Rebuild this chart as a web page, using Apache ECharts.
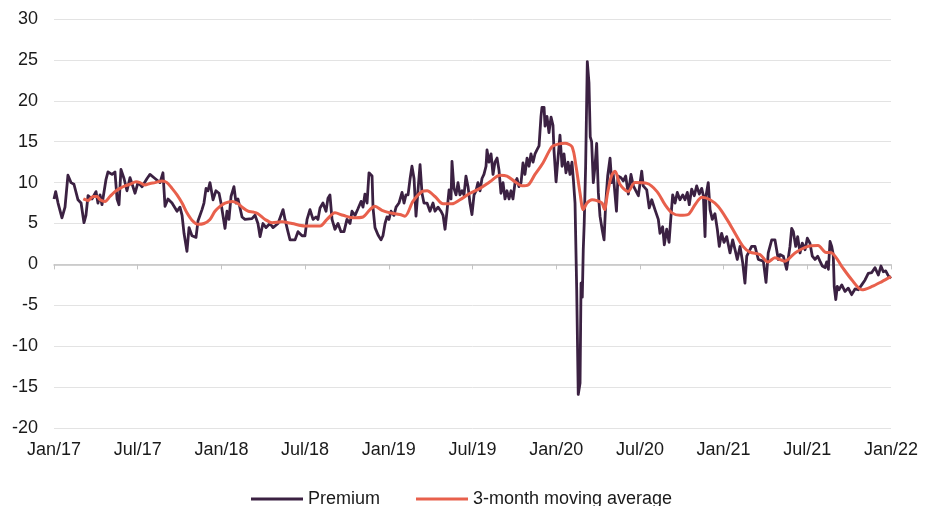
<!DOCTYPE html>
<html>
<head>
<meta charset="utf-8">
<script src="https://cdn.jsdelivr.net/npm/echarts@6/dist/echarts.min.js"></script>
<style>
html,body{margin:0;padding:0;background:#fff;}
#chart{width:934px;height:506px;}
</style>
</head>
<body>
<div id="chart"></div>
<script>
// x = months since Jan 2017
const tickLabels = ['Jan/17','Jul/17','Jan/18','Jul/18','Jan/19','Jul/19','Jan/20','Jul/20','Jan/21','Jul/21','Jan/22'];

const premium = [
[0.00,8.0],[0.12,8.9],[0.29,7.5],[0.57,5.7],[0.79,7.0],[1.00,10.9],[1.22,10.0],[1.43,9.8],[1.72,7.9],[1.94,7.5],
[2.15,5.1],[2.29,6.0],[2.44,8.4],[2.72,8.0],[3.01,8.9],[3.15,7.5],[3.30,8.5],[3.44,7.3],[3.73,10.4],[3.87,11.3],
[4.16,11.0],[4.37,11.3],[4.52,8.0],[4.66,7.3],[4.80,11.6],[5.02,10.5],[5.23,9.0],[5.45,10.6],[5.81,8.7],[6.02,10.0],
[6.31,9.5],[6.67,10.5],[6.88,11.0],[7.24,10.5],[7.60,10.0],[7.81,11.2],[7.96,7.1],[8.17,8.0],[8.46,7.5],[8.82,6.5],
[9.03,7.0],[9.18,6.0],[9.32,3.8],[9.53,1.6],[9.68,4.5],[9.89,3.5],[10.18,3.3],[10.32,5.3],[10.61,6.7],[10.75,7.5],
[10.90,9.3],[11.04,9.0],[11.18,10.0],[11.40,7.9],[11.61,9.0],[11.83,8.7],[11.97,7.5],[12.26,4.4],[12.40,6.5],[12.54,5.5],
[12.69,8.3],[12.90,9.5],[13.05,7.5],[13.19,8.0],[13.48,5.8],[13.69,5.5],[14.19,5.6],[14.41,6.0],[14.62,5.0],[14.77,3.4],
[14.98,5.0],[15.20,4.5],[15.48,5.0],[15.70,4.5],[16.06,5.0],[16.42,6.7],[16.56,5.5],[16.77,4.0],[16.92,3.0],[17.28,3.0],
[17.49,4.0],[17.78,3.5],[17.99,3.5],[18.14,5.5],[18.35,6.7],[18.57,5.5],[18.78,5.8],[18.92,5.5],[19.07,6.9],[19.28,7.5],
[19.50,6.5],[19.64,8.1],[19.78,8.5],[19.93,5.5],[20.14,4.3],[20.36,5.0],[20.57,4.0],[20.79,4.0],[21.00,5.5],[21.22,5.0],
[21.36,6.5],[21.58,6.0],[21.79,6.8],[22.01,7.7],[22.15,7.0],[22.29,8.6],[22.44,7.5],[22.58,11.2],[22.80,10.8],[22.87,6.9],
[23.01,4.5],[23.23,3.6],[23.44,3.0],[23.58,3.5],[23.73,5.0],[23.87,5.8],[24.01,5.5],[24.16,6.5],[24.37,6.0],[24.52,7.0],
[24.73,7.5],[24.95,8.8],[25.09,7.5],[25.23,8.5],[25.38,8.5],[25.52,10.4],[25.66,12.0],[25.81,10.5],[25.95,5.9],[26.09,9.0],
[26.24,12.2],[26.38,8.7],[26.52,7.5],[26.74,7.5],[26.95,6.5],[27.17,7.5],[27.31,6.5],[27.53,7.0],[27.74,6.5],[27.89,6.0],
[28.03,4.3],[28.17,6.5],[28.32,9.1],[28.46,8.0],[28.53,12.6],[28.67,9.3],[28.82,8.5],[28.96,10.0],[29.10,8.5],[29.25,9.0],
[29.39,8.5],[29.53,10.8],[29.68,9.5],[29.82,7.5],[29.96,6.1],[30.11,8.5],[30.25,9.0],[30.39,10.0],[30.54,9.0],[30.68,10.5],
[30.82,11.0],[30.97,12.0],[31.04,14.0],[31.18,12.5],[31.33,13.5],[31.47,11.0],[31.61,12.5],[31.76,13.0],[31.90,11.5],[32.04,8.7],
[32.19,10.0],[32.33,8.0],[32.47,9.0],[32.62,8.0],[32.76,9.0],[32.90,8.0],[33.05,10.0],[33.19,10.5],[33.33,9.5],[33.48,10.0],
[33.62,12.4],[33.76,11.0],[33.91,13.0],[34.05,12.0],[34.19,13.5],[34.34,12.5],[34.48,13.5],[34.62,14.0],[34.77,14.5],[34.91,18.1],
[34.98,19.2],[35.13,19.2],[35.20,16.9],[35.34,18.1],[35.48,16.1],[35.63,18.0],[35.77,17.0],[35.84,14.0],[35.99,10.1],[36.13,13.0],
[36.27,15.8],[36.42,12.0],[36.56,13.5],[36.70,11.2],[36.85,12.5],[36.99,11.0],[37.13,12.5],[37.23,10.4],[37.35,7.5],[37.47,-3.1],
[37.58,-15.9],[37.71,-14.5],[37.78,-2.3],[37.87,-4.0],[37.94,1.8],[38.01,5.1],[38.11,12.0],[38.23,24.8],[38.35,22.2],[38.44,15.6],
[38.54,15.0],[38.66,10.0],[38.78,12.0],[38.90,14.8],[39.02,8.8],[39.14,5.9],[39.30,4.2],[39.43,3.0],[39.55,7.5],[39.69,10.8],
[39.86,13.0],[39.98,10.0],[40.09,11.0],[40.22,10.8],[40.32,6.5],[40.43,10.8],[40.65,10.6],[40.81,10.2],[40.98,10.8],[41.17,8.6],
[41.36,11.0],[41.53,9.6],[41.65,9.7],[41.89,8.4],[42.13,11.4],[42.24,9.6],[42.49,9.1],[42.67,6.9],[42.85,7.9],[43.08,6.7],
[43.32,5.5],[43.44,3.8],[43.63,4.6],[43.75,2.4],[43.92,4.3],[44.09,2.7],[44.21,5.5],[44.35,8.5],[44.52,7.5],[44.68,8.8],
[44.87,7.9],[45.07,8.5],[45.23,7.9],[45.40,8.8],[45.54,7.3],[45.71,9.2],[45.90,8.4],[46.07,9.6],[46.26,8.6],[46.43,9.3],
[46.55,8.4],[46.67,3.4],[46.74,8.4],[46.90,10.0],[47.03,6.7],[47.19,5.5],[47.38,6.2],[47.55,4.3],[47.69,2.2],[47.86,3.8],
[48.03,2.7],[48.22,3.4],[48.46,1.4],[48.65,3.0],[48.82,1.8],[48.98,0.6],[49.18,2.2],[49.37,0.2],[49.53,-2.3],[49.66,1.0],
[50.01,2.2],[50.25,2.2],[50.49,0.6],[50.85,0.4],[51.04,-2.2],[51.20,1.4],[51.45,3.0],[51.68,3.0],[51.92,0.6],[52.04,1.2],
[52.28,1.0],[52.52,-0.6],[52.76,2.2],[52.88,4.4],[53.00,4.0],[53.17,2.2],[53.31,3.4],[53.48,1.4],[53.64,2.6],[53.84,1.8],
[54.00,3.2],[54.19,2.6],[54.36,1.0],[54.55,0.6],[54.75,1.0],[54.91,0.4],[55.08,-0.2],[55.27,-0.4],[55.39,0.3],[55.51,-0.6],
[55.63,2.8],[55.75,2.2],[55.86,1.2],[55.93,-2.7],[56.04,-4.3],[56.15,-2.7],[56.27,-3.1],[56.47,-2.5],[56.70,-3.3],[56.94,-2.9],
[57.18,-3.7],[57.42,-3.0],[57.66,-3.1],[57.90,-2.5],[58.14,-1.9],[58.37,-1.1],[58.62,-1.0],[58.85,-0.4],[59.09,-1.3],[59.28,-0.2],
[59.45,-0.9],[59.62,-0.8],[59.81,-1.4],[60.00,-1.7]
];

const movingAverage = [
[2.10,8.0],[2.44,7.8],[2.80,8.3],[3.08,8.3],[3.30,7.9],[3.66,7.7],[4.01,8.3],[4.37,8.9],[4.73,9.3],[5.09,9.6],
[5.45,9.8],[5.88,10.1],[6.16,10.0],[6.52,9.7],[6.88,9.9],[7.24,10.0],[7.74,10.2],[8.10,10.0],[8.46,9.3],[8.82,8.5],
[9.18,7.5],[9.53,6.3],[9.89,5.4],[10.32,4.9],[10.75,5.0],[11.18,5.5],[11.54,6.5],[11.90,7.1],[12.26,7.5],[12.76,7.7],
[13.12,7.5],[13.48,7.0],[13.91,6.5],[14.27,6.4],[14.62,6.2],[15.13,5.5],[15.63,5.1],[16.34,5.2],[17.06,5.0],[17.99,4.7],
[19.07,4.7],[19.57,5.5],[20.14,6.3],[20.72,6.0],[21.43,5.7],[22.15,5.8],[22.65,6.7],[23.01,7.1],[23.51,6.6],[24.09,6.3],
[24.80,6.1],[25.16,5.9],[25.73,7.7],[26.38,8.9],[26.74,9.0],[27.31,8.3],[27.89,7.4],[28.53,7.4],[29.10,7.9],[29.82,8.7],
[30.54,9.3],[31.25,10.1],[31.97,10.9],[32.47,10.8],[33.05,10.1],[33.55,9.6],[33.98,9.7],[34.48,11.0],[35.05,12.4],[35.70,14.4],
[36.13,14.7],[36.63,14.8],[37.13,14.4],[37.42,12.0],[37.71,8.7],[37.94,6.7],[38.21,7.5],[38.57,7.9],[38.92,7.8],[39.28,7.5],
[39.46,6.7],[39.68,8.7],[39.96,10.8],[40.22,11.4],[40.57,9.8],[41.15,8.9],[41.65,10.0],[42.51,9.9],[43.23,8.9],[43.80,7.3],
[44.30,6.3],[44.87,6.0],[45.45,6.1],[45.95,7.3],[46.45,8.2],[47.03,7.9],[47.60,7.1],[48.24,5.5],[48.82,3.8],[49.39,2.2],
[49.89,1.5],[50.61,1.2],[51.18,0.3],[51.68,0.8],[52.40,0.4],[53.12,1.4],[54.05,2.2],[54.77,2.3],[55.27,1.5],[55.77,1.4],
[56.49,-0.3],[57.20,-1.9],[57.92,-3.1],[58.64,-2.7],[59.35,-2.1],[60.00,-1.5]
];

const seriesNames = ['Premium', '3-month moving average'];
const seriesColors = ['#3b2142', '#e8604c'];

const chart = echarts.init(document.getElementById('chart'), null, {renderer: 'canvas'});
const fontFamily = '"Liberation Sans", Arial, sans-serif';

chart.setOption({
  animation: false,
  backgroundColor: '#fff',
  grid: {left: 54, right: 43, top: 19, bottom: 78, containLabel: false},
  legend: {
    data: seriesNames,
    left: 246, top: 485,
    icon: 'rect', itemWidth: 52, itemHeight: 3, itemGap: 36,
    textStyle: {fontSize: 18, color: '#1a1a1a', fontFamily: fontFamily}
  },
  xAxis: [{
    type: 'value', min: 0, max: 60, interval: 6, position: 'bottom',
    axisLine: {show: false, onZero: false},
    axisTick: {show: false},
    splitLine: {show: false},
    axisLabel: {
      margin: 13, fontSize: 18, color: '#1a1a1a', fontFamily: fontFamily,
      formatter: function (v) { return tickLabels[Math.round(v / 6)] || ''; }
    }
  }, {
    type: 'value', min: 0, max: 60, interval: 6, position: 'top',
    axisLine: {show: true, onZero: true, lineStyle: {color: '#c4c4c4', width: 1.5}},
    axisTick: {show: true, inside: true, length: 5, lineStyle: {color: '#c4c4c4', width: 1}},
    splitLine: {show: false},
    axisLabel: {show: false}
  }],
  yAxis: {
    type: 'value', min: -20, max: 30, interval: 5,
    axisLine: {show: false}, axisTick: {show: false},
    splitLine: {lineStyle: {color: '#e3e3e3', width: 1}},
    axisLabel: {margin: 16, fontSize: 18, color: '#1a1a1a', fontFamily: fontFamily}
  },
  series: [{
    name: seriesNames[0], type: 'line', data: premium, xAxisIndex: 0,
    showSymbol: false, color: seriesColors[0],
    lineStyle: {color: seriesColors[0], width: 2.8, join: 'round'}, z: 2
  }, {
    name: seriesNames[1], type: 'line', data: movingAverage, xAxisIndex: 0,
    showSymbol: false, smooth: 0.3, color: seriesColors[1],
    lineStyle: {color: seriesColors[1], width: 3}, z: 3
  }]
});
</script>
</body>
</html>
